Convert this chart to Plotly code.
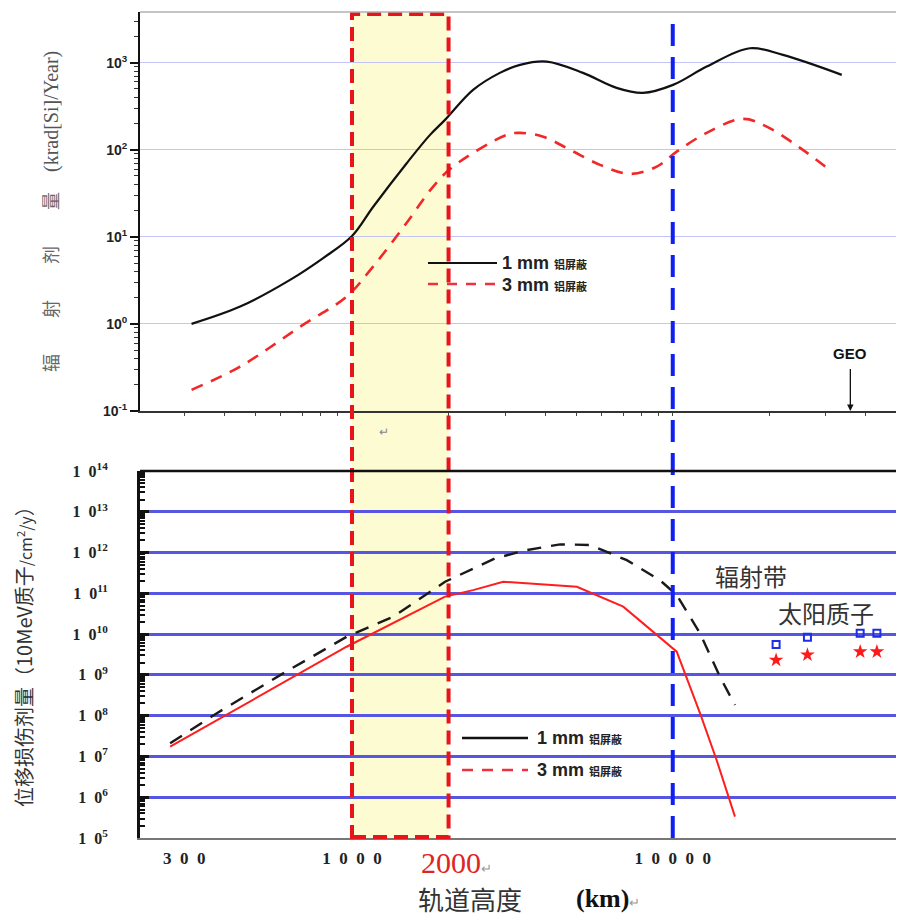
import numpy as np
import plotly.graph_objects as go

# ---------------- data ----------------
# Top panel: ionising dose (krad[Si]/Year) vs orbit altitude (km)
top_alt_1mm = [316, 448, 641, 813, 1000, 1163, 1481, 1751, 1950, 2385, 2890, 3340, 4050,
               5250, 6680, 8070, 10020, 12760, 17400, 22060, 33650]
top_dose_1mm = [1.0, 1.58, 3.2, 5.7, 10.2, 22, 70, 148, 220, 486, 762, 942, 1026,
                762, 513, 449, 555, 900, 1462, 1225, 723]
top_alt_3mm = [316, 448, 703, 962, 1163, 1481, 1791, 2066, 3035, 3340, 3945, 4790, 5935,
               7360, 8915, 10290, 12760, 16560, 19630, 24940, 31320]
top_dose_3mm = [0.175, 0.324, 0.975, 2.06, 4.55, 14.5, 37.7, 64, 148, 156, 141, 99.5, 67,
                52.7, 64, 95, 156, 226, 184, 105, 56]

# Bottom panel: displacement damage dose (10MeV protons/cm2/y)
dd_alt_black = [271, 379, 610, 962, 1343, 1950, 2793, 3505, 4455, 5525, 7190, 9120,
                10290, 12160, 14030, 15630]
dd_black = [2.1e7, 1.15e8, 1.09e9, 8.6e9, 2.67e10, 1.92e11, 7.2e11, 1.15e12, 1.59e12,
            1.53e12, 6.5e11, 2.1e11, 9.1e10, 1.05e10, 9.0e8, 1.83e8]
dd_alt_red = [271, 962, 1950, 2385, 2960, 5025, 7010, 8710, 10290, 12160, 13700, 15630]
dd_red = [1.74e7, 4.9e9, 8.3e10, 1.2e11, 1.92e11, 1.45e11, 4.7e10, 1.15e10, 3.7e9,
          1.15e8, 8.2e6, 3.35e5]

# Solar proton points
sp_alt = [21000, 26300, 38400, 43300]
sp_square = [5.6e9, 8.4e9, 1.05e10, 1.05e10]
sp_star = [2.3e9, 3.1e9, 3.7e9, 3.7e9]

# Reference altitudes
band_alt = [1000, 2000]
meo_alt = 10000
geo_alt = 35786

# Tick labels
x_tickvals = [300, 1000, 10000]
x_ticktext = ["3\u20020\u20020", "1\u20020\u20020\u20020", "1\u20020\u20020\u20020\u20020"]
top_y_tickvals = [0.1, 1, 10, 100, 1000]
top_y_ticktext = ["<b>10<sup>-1</sup></b>", "<b>10<sup>0</sup></b>", "<b>10<sup>1</sup></b>",
                  "<b>10<sup>2</sup></b>", "<b>10<sup>3</sup></b>"]
bot_exps = list(range(5, 15))
bot_y_tickvals = [10.0 ** e for e in bot_exps]
bot_y_ticktext = ["<b>1\u20020<sup>%d</sup></b>" % e for e in bot_exps]

# ---------------- layout helpers (reference pixel -> paper) ----------------
OFF = 8                      # page body margin of the html page
W, H = 904 - OFF, 919 - OFF  # figure size so that it fills the window
L = 140 - OFF
T = 12 - OFF
B = H - (838 - OFF)
R = 0
PW, PH = W - L - R, H - T - B


def px(x):
    return (x - OFF - L) / PW


def py(y):
    return (H - B - (y - OFF)) / PH


XR = [2.339, 4.721]

fig = go.Figure()

# top panel traces
fig.add_trace(go.Scatter(x=top_alt_1mm, y=top_dose_1mm, mode="lines",
                         line=dict(color="#111111", width=2.2, shape="spline", smoothing=1.0),
                         xaxis="x2", yaxis="y2", showlegend=False))
fig.add_trace(go.Scatter(x=top_alt_3mm, y=top_dose_3mm, mode="lines",
                         line=dict(color="#f02828", width=2.6, dash="12px,9px",
                                   shape="spline", smoothing=1.0),
                         xaxis="x2", yaxis="y2", showlegend=False))

# bottom panel traces
fig.add_trace(go.Scatter(x=dd_alt_black, y=dd_black, mode="lines",
                         line=dict(color="#1a1a1a", width=2.4, dash="14px,10px"),
                         xaxis="x", yaxis="y", showlegend=False))
fig.add_trace(go.Scatter(x=dd_alt_red, y=dd_red, mode="lines",
                         line=dict(color="#ff1e1e", width=2),
                         xaxis="x", yaxis="y", showlegend=False))
fig.add_trace(go.Scatter(x=sp_alt, y=sp_square, mode="markers",
                         marker=dict(symbol="square-open", size=7, color="#1f2ee6",
                                     line=dict(width=2, color="#1f2ee6")),
                         xaxis="x", yaxis="y", showlegend=False))
fig.add_trace(go.Scatter(x=sp_alt, y=sp_star, mode="markers",
                         marker=dict(symbol="star", size=11, color="#ff1a1a"),
                         xaxis="x", yaxis="y", showlegend=False))

shapes = []
# yellow band (below everything)
shapes.append(dict(type="rect", xref="x", yref="paper", x0=band_alt[0], x1=band_alt[1],
                   y0=0, y1=py(13), fillcolor="#fdfbd2", line=dict(width=0), layer="below"))
# red dashed band border
shapes.append(dict(type="rect", xref="x", yref="paper", x0=band_alt[0], x1=band_alt[1],
                   y0=py(837), y1=py(14), fillcolor="rgba(0,0,0,0)",
                   line=dict(color="#e8141c", width=4, dash="14px,7px"), layer="above"))
# blue dashed MEO line
shapes.append(dict(type="line", xref="x", yref="paper", x0=meo_alt, x1=meo_alt,
                   y0=0, y1=py(13), line=dict(color="#1020f0", width=4, dash="22px,11px"),
                   layer="above"))
# top border of top panel
shapes.append(dict(type="line", xref="paper", yref="paper", x0=0, x1=1, y0=1, y1=1,
                   line=dict(color="#b0b0b0", width=1.5)))
# top border of bottom panel
shapes.append(dict(type="line", xref="paper", yref="paper", x0=0, x1=1, y0=py(471), y1=py(471),
                   line=dict(color="#111111", width=2.5)))
# legend samples
shapes.append(dict(type="line", xref="paper", yref="paper", x0=px(428), x1=px(497),
                   y0=py(263), y1=py(263), line=dict(color="#111111", width=2.2)))
shapes.append(dict(type="line", xref="paper", yref="paper", x0=px(428), x1=px(497),
                   y0=py(284), y1=py(284), line=dict(color="#f03040", width=2.6, dash="10px,9px")))
shapes.append(dict(type="line", xref="paper", yref="paper", x0=px(462), x1=px(528),
                   y0=py(738), y1=py(738), line=dict(color="#111111", width=2.4)))
shapes.append(dict(type="line", xref="paper", yref="paper", x0=px(462), x1=px(528),
                   y0=py(770), y1=py(770), line=dict(color="#f03040", width=2.6, dash="11px,9px")))

CJK = "Noto Sans CJK SC"
IS = "\u3000"

annotations = []


def ann(x, y, text, size, color="#222222", family="Liberation Sans", xanchor="center",
        yanchor="middle", angle=0):
    annotations.append(dict(xref="paper", yref="paper", x=px(x), y=py(y), text=text,
                            showarrow=False, xanchor=xanchor, yanchor=yanchor,
                            textangle=angle, font=dict(size=size, color=color, family=family)))


# axis titles
ann(50, 212,
    "<span style='font-family:%s;font-size:18px;color:#666'>辐%s射%s剂%s量</span>%s(krad[Si]/Year)"
    % (CJK, IS * 2, IS * 2, IS * 2, IS),
    20, color="#555555", family="Liberation Serif", angle=-90)
ann(23, 652,
    "位移损伤剂量（10MeV质子<span style='font-size:16px'>/cm<sup>2</sup>/y</span>）",
    20, color="#333333", family=CJK, angle=-90)
ann(470, 898, "轨道高度", 26, color="#333333", family=CJK)
ann(574, 898, "<b>(km)</b><span style='font-size:13px;color:#999'>↵</span>", 26,
    color="#111111", family="Liberation Serif", xanchor="left")
ann(419, 862, "2000<span style='font-size:13px;color:#999'>↵</span>", 30, color="#e02424",
    family="Liberation Serif", xanchor="left")
ann(384, 432, "↵", 12, color="#888888")

# legends
leg_txt = "<b>%s</b> <span style='font-family:%s;font-size:11px'><b>铝屏蔽</b></span>"
ann(500, 263, leg_txt % ("1 mm", CJK), 18, color="#222222", xanchor="left")
ann(500, 285, leg_txt % ("3 mm", CJK), 18, color="#222222", xanchor="left")
ann(535, 738, leg_txt % ("1 mm", CJK), 18, color="#222222", xanchor="left")
ann(535, 770, leg_txt % ("3 mm", CJK), 18, color="#222222", xanchor="left")

# region labels
ann(713, 575, "辐射带", 24, color="#333333", family=CJK, xanchor="left")
ann(776, 612, "太阳质子", 24, color="#333333", family=CJK, xanchor="left")

# GEO arrow
annotations.append(dict(xref="x2", yref="y2", x=np.log10(geo_alt), y=-1,
                        text="<b>GEO</b>", showarrow=True, ax=0, ay=-58,
                        arrowhead=2, arrowsize=1, arrowwidth=1.3, arrowcolor="#111111",
                        startstandoff=6,
                        font=dict(size=15, color="#111111", family="Liberation Sans")))

fig.update_layout(
    width=W, height=H,
    margin=dict(l=L, r=R, t=T, b=B, autoexpand=False),
    paper_bgcolor="white",
    plot_bgcolor="rgba(0,0,0,0)",
    showlegend=False,
    shapes=shapes,
    annotations=annotations,
    xaxis=dict(domain=[0, 1], anchor="y", type="log", range=XR, showgrid=False,
               automargin=False,
               zeroline=False, showline=True, linecolor="#777777", linewidth=2,
               tickvals=x_tickvals, ticktext=["<b>%s</b>" % t for t in x_ticktext],
               ticks="", ticklabelstandoff=4,
               tickfont=dict(family="Liberation Serif", size=17, color="#222222")),
    xaxis2=dict(domain=[0, 1], anchor="y2", type="log", range=XR, matches="x",
                automargin=False,
                showgrid=False, zeroline=False, showline=True, linecolor="#333333",
                linewidth=1.5, ticks="outside", ticklen=3, tickcolor="#444444",
                dtick="D1", showticklabels=False),
    yaxis=dict(domain=[0, py(471)], anchor="x", type="log", range=[5, 14],
               automargin=False,
               showgrid=True, gridcolor="#5656e2", gridwidth=3, zeroline=False,
               showline=True, linecolor="#111111", linewidth=3,
               tickvals=bot_y_tickvals, ticktext=bot_y_ticktext,
               ticks="inside", ticklen=9, tickwidth=3, tickcolor="#111111",
               ticklabelstandoff=26,
               minor=dict(ticks="inside", ticklen=5, tickwidth=2, tickcolor="#111111",
                          showgrid=False, dtick="D1"),
               tickfont=dict(family="Liberation Serif", size=16, color="#222222")),
    yaxis2=dict(domain=[py(411), 1], anchor="x2", type="log", range=[-1, 3.581],
                automargin=False,
                showgrid=True, gridcolor="#c4c4f6", gridwidth=1.2, zeroline=False,
                showline=True, linecolor="#111111", linewidth=2,
                tickvals=top_y_tickvals, ticktext=top_y_ticktext,
                ticks="outside", ticklen=8, tickwidth=1.5, tickcolor="#111111",
                minor=dict(ticks="outside", ticklen=4, tickwidth=1, tickcolor="#333333",
                           showgrid=False, dtick="D1"),
                tickfont=dict(family="Liberation Sans", size=14, color="#222222")),
)

fig.write_html("out.html")
